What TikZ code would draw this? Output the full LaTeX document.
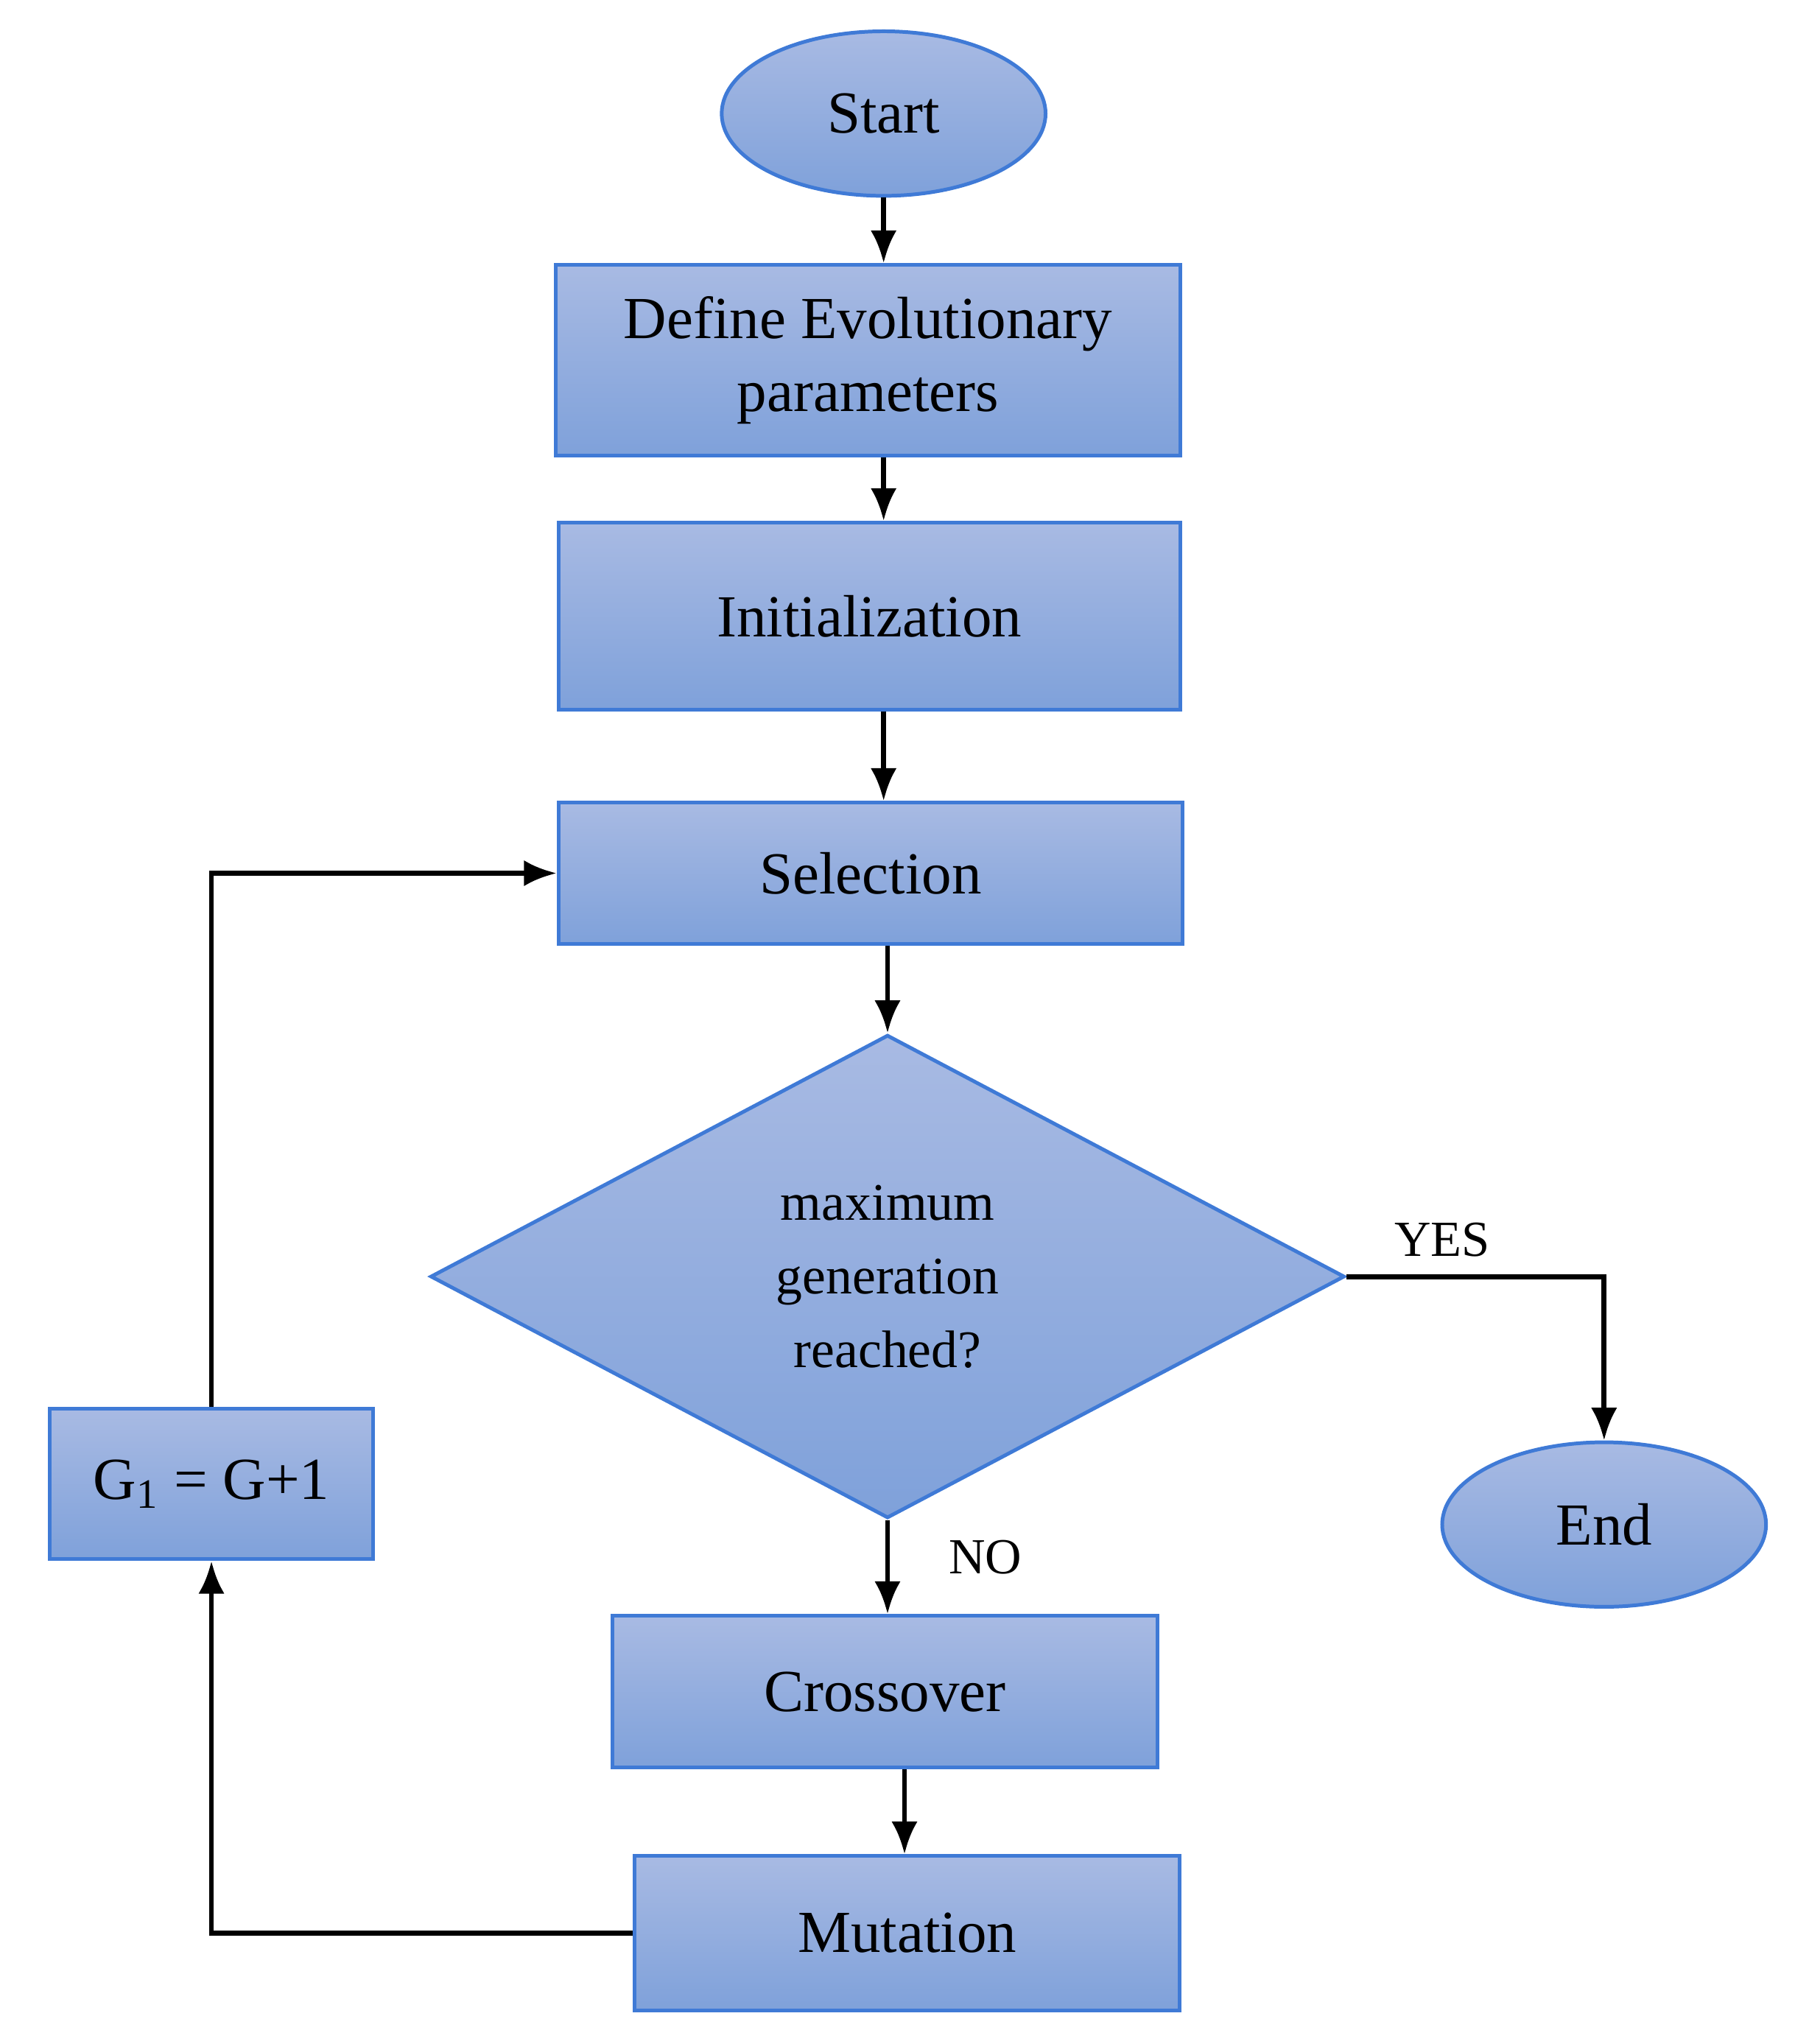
\documentclass[tikz,border=0pt]{standalone}
\usepackage{fontspec}
\setmainfont{Liberation Serif}
\usetikzlibrary{shapes.geometric, arrows.meta, positioning}
\definecolor{boxtop}{HTML}{A8BAE3}
\definecolor{boxbot}{HTML}{7FA1DA}
\definecolor{boxline}{HTML}{3F7AD6}
\tikzset{
  stage/.style={rectangle, draw=boxline, thick, top color=boxtop, bottom color=boxbot, font=\fontsize{13}{16}\selectfont, align=center, inner sep=0pt},
  term/.style={ellipse, draw=boxline, thick, top color=boxtop, bottom color=boxbot, font=\fontsize{13}{16}\selectfont, minimum width=2.48cm, minimum height=1.26cm, inner sep=0pt},
  flow/.style={-{Latex[length=2.5mm,width=2mm]}, line width=1.1pt}
}
\begin{document}
\begin{tikzpicture}[x=0.01cm,y=-0.01cm]
\useasboundingbox (0,0) rectangle (1386,1566);

\node[term] at (677,87) (start) {Start};
\node[stage, minimum width=4.78cm, minimum height=1.46cm] at (665,276) (define) {Define Evolutionary\\parameters};
\node[stage, minimum width=4.76cm, minimum height=1.43cm] at (666,472) (init) {Initialization};
\node[stage, minimum width=4.78cm, minimum height=1.08cm] at (667,669) (select) {Selection};
\node[diamond, draw=boxline, thick, top color=boxtop, bottom color=boxbot, aspect=1.89, minimum width=7cm, minimum height=3.7cm, inner sep=0pt, align=center, font=\fontsize{11.5}{16}\selectfont] at (680,978) (check) {maximum\\generation\\reached?};
\node[term] at (1229,1168) (end) {End};
\node[stage, minimum width=2.48cm, minimum height=1.15cm] at (162,1137) (count) {G\textsubscript{1} = G+1};
\node[stage, minimum width=4.17cm, minimum height=1.16cm] at (678,1296) (cross) {Crossover};
\node[stage, minimum width=4.17cm, minimum height=1.18cm] at (695,1481) (mutate) {Mutation};

\node[font=\fontsize{11}{13}\selectfont] at (1105,950) (yes) {YES};
\node[font=\fontsize{11}{13}\selectfont] at (755,1193) (no) {NO};

\draw[flow] (start) -- (start |- define.north);
\draw[flow] (define.south -| start) -- (start |- init.north);
\draw[flow] (init.south -| start) -- (start |- select.north);
\draw[flow] (select.south -| check) -- (check.north);
\draw[flow] (check.south) -- (check |- cross.north);
\draw[flow] (check.east) -| (end.north);
\draw[flow] (cross.south -| 693,0) -- (693,0 |- mutate.north);
\draw[flow] (mutate.west) -| (count.south);
\draw[flow] (count.north) |- (select.west);

\end{tikzpicture}
\end{document}
